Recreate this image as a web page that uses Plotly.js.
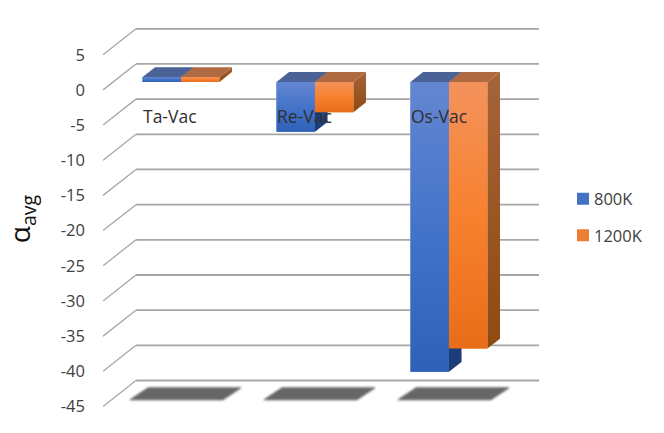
<!DOCTYPE html>
<html>
<head>
<meta charset="utf-8">
<script src="https://cdn.plot.ly/plotly-3.0.1.min.js"></script>
<style>
html, body { margin: 0; padding: 0; background: #fff; }
#chart { width: 664px; height: 433px; }
</style>
</head>
<body>
<div id="chart"></div>
<script>
const categories = ["Ta-Vac", "Re-Vac", "Os-Vac"];
const values800 = [0.7, -7.1, -41.2];
const values1200 = [0.7, -4.3, -37.9];
const tickValues = [5, 0, -5, -10, -15, -20, -25, -30, -35, -40, -45];
const tickLabels = ["5", "0", "-5", "-10", "-15", "-20", "-25", "-30", "-35", "-40", "-45"];

// fake 3d, everything is in axis units (1 x unit = 134px, 1 y unit = 7.04px)
const WALL_DX = 0.246, WALL_DY = 3.69;   // front plane -> back wall
const BAR_PLANE = 1.136;                 // the bars stand a bit behind the front plane
const BAR_DX = 0.094, BAR_DY = 1.4;      // depth of one bar
const BAR_W = 0.287;
const LABEL_Y = -3.7;

const FONT = "'Open Sans', sans-serif";
const TEXT_COLOR = "#404040";

let traces = [];

function face(xs, ys, colors){
    let t = {
        type: "scatter", mode: "lines", x: xs, y: ys,
        fill: "toself", line: { width: 0 },
        showlegend: false, hoverinfo: "skip",
    };
    if(colors instanceof Array){
        t.fillgradient = { type: "vertical", colorscale: colors.map((c, k) => [k / (colors.length - 1), c]) };
    } else {
        t.fillcolor = colors;
    }
    traces.push(t);
}

function add_series(name, values, side, colors){
    // real bars first: they sit under the shaded faces and give the legend entry
    traces.push({
        type: "bar", name: name,
        x: categories.map((c, i) => i), y: values,
        base: values.map(() => BAR_PLANE),
        width: BAR_W, offset: side < 0 ? -BAR_W : 0,
        marker: { color: colors.legend },
        legendgroup: name, hoverinfo: "skip",
    });
}

function add_box(i, value, side, colors){
    let x0 = i + (side < 0 ? -BAR_W : 0), x1 = x0 + BAR_W;
    let top = Math.max(value, 0) + BAR_PLANE, bot = Math.min(value, 0) + BAR_PLANE;
    face([x0, x1, x1 + BAR_DX, x0 + BAR_DX, x0], [top, top, top + BAR_DY, top + BAR_DY, top], colors.top);
    face([x1, x1 + BAR_DX, x1 + BAR_DX, x1, x1], [top, top + BAR_DY, bot + BAR_DY, bot, top], colors.side);
    face([x0, x1, x1, x0, x0], [top, top, bot, bot, top], colors.front);
}

const BLUE = { legend: "#4472c4", top: "#4a6296", side: ["#1c3c78", "#2c4f90"], front: ["#2f61b8", "#4474c9", "#6486d2"] };
const ORANGE = { legend: "#ed7d31", top: "#b06a42", side: ["#8f4a10", "#a5643a"], front: ["#e96d18", "#f7812f", "#f4925c"] };

add_series("800K", values800, -1, BLUE);
add_series("1200K", values1200, 1, ORANGE);

// floor shadows
categories.forEach((c, i) => {
    let x = i - 0.381, w = 0.694, s = 0.135, y = -44.05, h = 1.7;
    traces.push({
        type: "scatter", mode: "lines",
        x: [x, x + w, x + w + s, x + s, x], y: [y, y, y + h, y + h, y],
        fill: "toself", fillcolor: "#666666", line: { width: 1, color: "#666666" },
        showlegend: false, hoverinfo: "skip",
    });
});

// gridlines + the oblique part on the left wall
let gx = [], gy = [];
const X_MIN = -0.582, X_MAX = 2.672;
tickValues.forEach(v => {
    gx.push(X_MIN + WALL_DX, X_MAX, null);
    gy.push(v + WALL_DY, v + WALL_DY, null);
});
traces.push({ type: "scatter", mode: "lines", x: gx, y: gy, line: { color: "#a6a6a6", width: 1.8 }, showlegend: false, hoverinfo: "skip" });
let ox = [], oy = [];
tickValues.forEach(v => {
    ox.push(X_MIN, X_MIN + WALL_DX, null);
    oy.push(v, v + WALL_DY, null);
});
traces.push({ type: "scatter", mode: "lines", x: ox, y: oy, line: { color: "#a6a6a6", width: 1.3 }, showlegend: false, hoverinfo: "skip" });

categories.forEach((c, i) => {
    add_box(i, values800[i], -1, BLUE);
    add_box(i, values1200[i], 1, ORANGE);
});

let layout = {
    width: 664, height: 433,
    margin: { l: 103, r: 125, t: 28, b: 23, pad: 0, autoexpand: false },
    paper_bgcolor: "#fff", plot_bgcolor: "#fff",
    showlegend: true,
    barmode: "overlay",
    hovermode: false,
    xaxis: { range: [X_MIN, X_MAX], visible: false, fixedrange: true },
    yaxis: {
        range: [-45.5, 8.8], tickmode: "array", tickvals: tickValues, ticktext: tickLabels,
        showgrid: false, zeroline: false, showline: false, ticks: "", ticklabelstandoff: 17,
        tickfont: { family: FONT, size: 16.5, color: TEXT_COLOR },
        fixedrange: true,
        title: { text: "α<sub>avg</sub>", font: { family: FONT, size: 28, color: "#111" }, standoff: 22 },
    },
    legend: {
        x: 1.055, y: 0.505, xanchor: "left", yanchor: "middle",
        traceorder: "grouped", tracegroupgap: 12, itemwidth: 30,
        font: { family: FONT, size: 16.5, color: TEXT_COLOR },
        bgcolor: "rgba(0,0,0,0)",
    },
    annotations: categories.map((c, i) => ({
        x: i - BAR_W, y: LABEL_Y, text: c, xref: "x", yref: "y",
        xanchor: "left", yanchor: "middle", showarrow: false, xshift: -2,
        font: { family: FONT, size: 17.5, color: "#303030" },
    })),
};

Plotly.newPlot("chart", traces, layout, { displayModeBar: false, staticPlot: true }).then(() => {
    // legend text sits closer to its swatch in the original
    document.querySelectorAll("#chart .legendtext").forEach(el => {
        el.setAttribute("x", parseFloat(el.getAttribute("x")) - 9);
    });
    // soft edge on the floor shadows (first three scatter traces)
    document.querySelectorAll("#chart .scatterlayer .trace").forEach((el, k) => {
        if(k < categories.length) el.style.filter = "blur(1.2px)";
    });
});
</script>
</body>
</html>
